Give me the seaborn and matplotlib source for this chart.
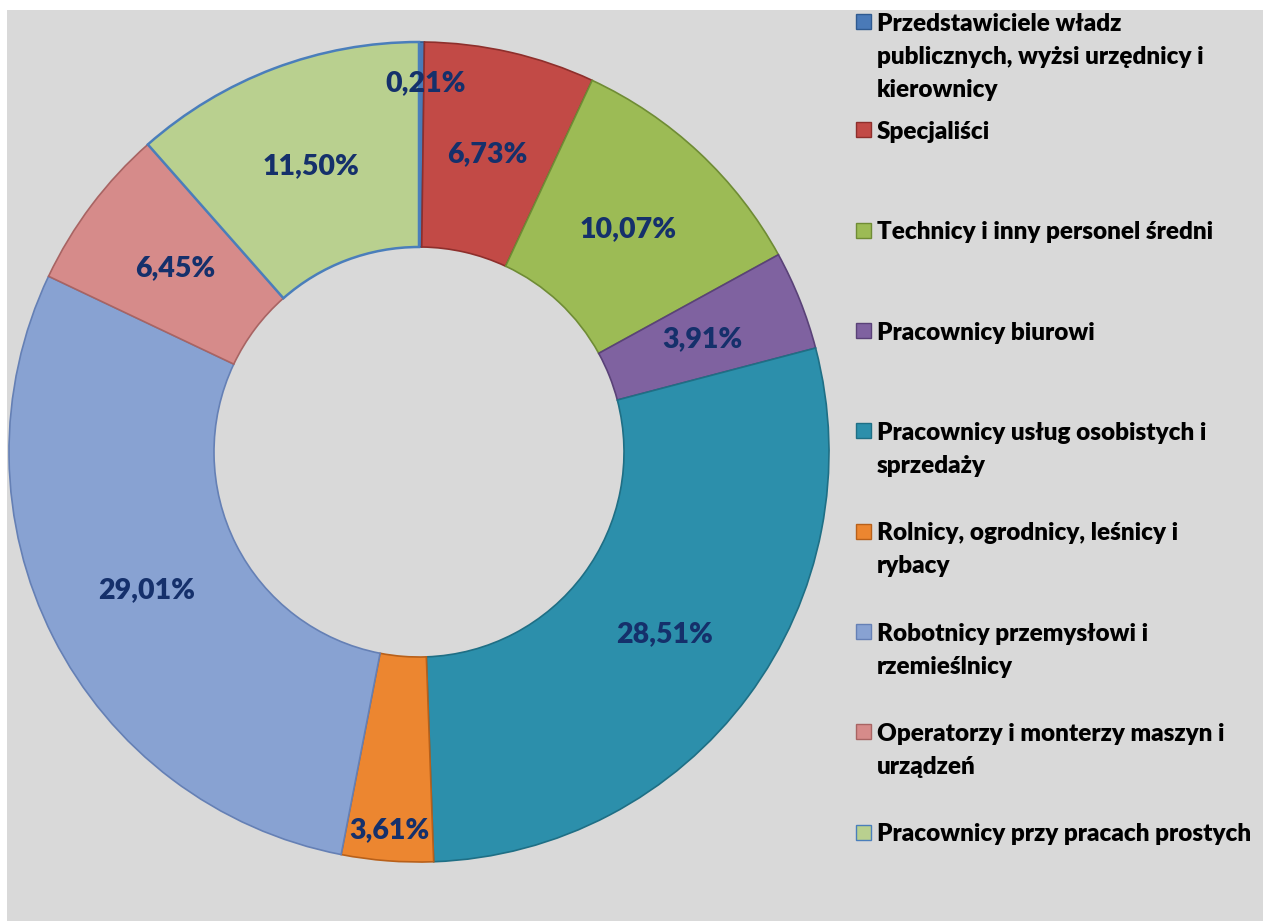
import matplotlib
matplotlib.use("Agg")
import numpy as np
import matplotlib.pyplot as plt
from matplotlib.patches import Rectangle
import seaborn as sns

# === Data ===
categories = [
    "Przedstawiciele władz\npublicznych, wyżsi urzędnicy i\nkierownicy",
    "Specjaliści",
    "Technicy i inny personel średni",
    "Pracownicy biurowi",
    "Pracownicy usług osobistych i\nsprzedaży",
    "Rolnicy, ogrodnicy, leśnicy i\nrybacy",
    "Robotnicy przemysłowi i\nrzemieślnicy",
    "Operatorzy i monterzy maszyn i\nurządzeń",
    "Pracownicy przy pracach prostych",
]
shares = [0.21, 6.73, 10.07, 3.91, 28.51, 3.61, 29.01, 6.45, 11.50]

fill_colors = ["#4a7ab8", "#c24a46", "#9cbb55", "#7f62a0", "#2c8fab",
               "#ec8630", "#88a2d2", "#d68b8a", "#b9d08f"]
edge_colors = ["#2f5a90", "#8e2f2c", "#6f8c35", "#5a4278", "#1f6f85",
               "#b8601a", "#6580b5", "#a86463", "#4a7ebb"]

sns.set_style("white")
plt.rcParams["font.family"] = ["Lato", "DejaVu Sans"]

W, H = 1263, 921
fig = plt.figure(figsize=(W / 100, H / 100), dpi=100)
fig.patch.set_facecolor("white")

# gray chart area
fig.add_artist(Rectangle((7 / W, 0), 1 - 7 / W, (H - 10) / H,
                         transform=fig.transFigure, facecolor="#d9d9d9",
                         edgecolor="none", zorder=0))

# === Donut ===
cx, cy, r = 419, 452, 410
ax = fig.add_axes([(cx - r) / W, (H - cy - r) / H, 2 * r / W, 2 * r / H])
ax.set_facecolor("none")

palette = sns.color_palette(fill_colors)
wedges, texts, autotexts = ax.pie(
    shares, colors=palette, startangle=90, counterclock=False, radius=1,
    wedgeprops=dict(width=0.5, linewidth=1.2),
    autopct=lambda p: f"{p:.2f}%".replace(".", ","), pctdistance=0.745,
    textprops=dict(color="#15306b", fontsize=20.5, fontweight="heavy"),
)
for w, ec in zip(wedges, edge_colors):
    w.set_edgecolor(ec)
wedges[-1].set_linewidth(1.8)

# small slices get their labels pushed outward (best-fit style)
for t, w, v in zip(autotexts, wedges, shares):
    if v < 3.7:
        ang = np.deg2rad((w.theta1 + w.theta2) / 2)
        dist = 0.9 if v < 1 else 0.925
        t.set_position((dist * np.cos(ang) + (0.01 if v < 1 else 0),
                        dist * np.sin(ang)))

ax.set_xlim(-1, 1)
ax.set_ylim(-1, 1)
ax.set_aspect("equal")
ax.axis("off")

# === Legend (first line of each entry aligned with its marker) ===
legend_y = [22] + [130 + 100.3 * i for i in range(len(categories) - 1)]
line_h = 33
for lab, y, fc, ec in zip(categories, legend_y, fill_colors, edge_colors):
    fig.add_artist(Rectangle((856 / W, (H - y - 7.5) / H), 15 / W, 15 / H,
                             transform=fig.transFigure, facecolor=fc,
                             edgecolor=ec, linewidth=1, zorder=3))
    for k, line in enumerate(lab.split("\n")):
        fig.text(877 / W, (H - y - k * line_h) / H, line, ha="left",
                 va="center_baseline", fontsize=17.5, fontweight="heavy",
                 color="black", transform=fig.transFigure)

fig.savefig("out.png", dpi=100, facecolor=fig.get_facecolor())
